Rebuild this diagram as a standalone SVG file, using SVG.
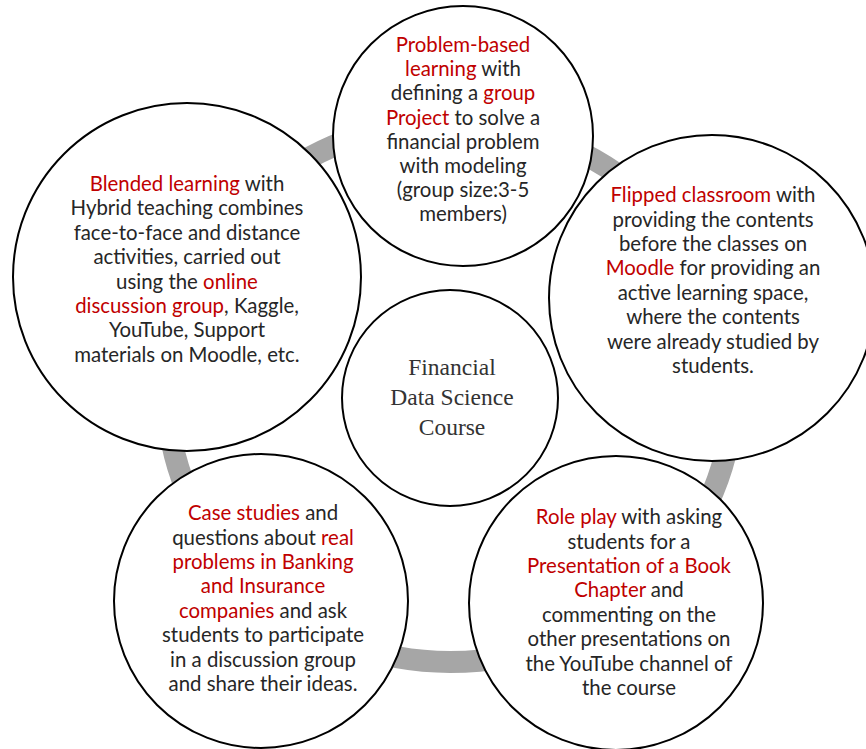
<svg xmlns="http://www.w3.org/2000/svg" width="866" height="749" viewBox="0 0 866 749">
  <style>
    .bubble { fill: #ffffff; stroke: #000000; stroke-width: 2; }
    .txt { font-family: Lato, "Open Sans", "Liberation Sans", sans-serif; font-size: 20.4px; fill: #262626; text-anchor: middle; }
    .hl { fill: #c00000; }
    .core { font-family: "Liberation Serif", "DejaVu Serif", serif; font-size: 23.5px; fill: #333333; text-anchor: middle; }
  </style>
  <rect width="866" height="749" fill="#ffffff"/>

  <!-- ring linking the five teaching methods -->
  <g id="connectors">
    <ellipse cx="450" cy="392" rx="283" ry="270" fill="none" stroke="#a6a6a6" stroke-width="22"/>
  </g>

  <g id="node-problem-based">
    <circle class="bubble" cx="463" cy="136" r="130"/>
    <text class="txt" x="463" y="52"><tspan class="hl">Problem-based</tspan></text>
    <text class="txt" x="463" y="76"><tspan class="hl">learning</tspan> with</text>
    <text class="txt" x="463" y="100">defining a <tspan class="hl">group</tspan></text>
    <text class="txt" x="463" y="125"><tspan class="hl">Project</tspan> to solve a</text>
    <text class="txt" x="463" y="149">financial problem</text>
    <text class="txt" x="463" y="173">with modeling</text>
    <text class="txt" x="463" y="197">(group size:3-5</text>
    <text class="txt" x="463" y="221">members)</text>
  </g>

  <g id="node-blended">
    <circle class="bubble" cx="187" cy="277" r="174"/>
    <text class="txt" x="187" y="191"><tspan class="hl">Blended learning</tspan> with</text>
    <text class="txt" x="187" y="215">Hybrid teaching combines</text>
    <text class="txt" x="187" y="240">face-to-face and distance</text>
    <text class="txt" x="187" y="264">activities, carried out</text>
    <text class="txt" x="187" y="289">using the <tspan class="hl">online</tspan></text>
    <text class="txt" x="187" y="313"><tspan class="hl">discussion group</tspan>, Kaggle,</text>
    <text class="txt" x="187" y="337">YouTube, Support</text>
    <text class="txt" x="187" y="362">materials on Moodle, etc.</text>
  </g>

  <g id="node-flipped">
    <circle class="bubble" cx="712" cy="298" r="163"/>
    <text class="txt" x="713" y="202"><tspan class="hl">Flipped classroom</tspan> with</text>
    <text class="txt" x="713" y="227">providing the contents</text>
    <text class="txt" x="713" y="251">before the classes on</text>
    <text class="txt" x="713" y="275"><tspan class="hl">Moodle</tspan> for providing an</text>
    <text class="txt" x="713" y="300">active learning space,</text>
    <text class="txt" x="713" y="324">where the contents</text>
    <text class="txt" x="713" y="349">were already studied by</text>
    <text class="txt" x="713" y="373">students.</text>
  </g>

  <g id="node-center">
    <circle class="bubble" cx="450" cy="398" r="108"/>
    <text class="core" x="452" y="375">Financial</text>
    <text class="core" x="452" y="405">Data Science</text>
    <text class="core" x="452" y="435">Course</text>
  </g>

  <g id="node-case-studies">
    <circle class="bubble" cx="261" cy="601" r="147"/>
    <text class="txt" x="263" y="520"><tspan class="hl">Case studies</tspan> and</text>
    <text class="txt" x="263" y="545">questions about <tspan class="hl">real</tspan></text>
    <text class="txt" x="263" y="569"><tspan class="hl">problems in Banking</tspan></text>
    <text class="txt" x="263" y="593"><tspan class="hl">and Insurance</tspan></text>
    <text class="txt" x="263" y="618"><tspan class="hl">companies</tspan> and ask</text>
    <text class="txt" x="263" y="642">students to participate</text>
    <text class="txt" x="263" y="667">in a discussion group</text>
    <text class="txt" x="263" y="691">and share their ideas.</text>
  </g>

  <g id="node-role-play">
    <circle class="bubble" cx="616" cy="603" r="147"/>
    <text class="txt" x="629" y="524"><tspan class="hl">Role play</tspan> with asking</text>
    <text class="txt" x="629" y="549">students for a</text>
    <text class="txt" x="629" y="573"><tspan class="hl">Presentation of a Book</tspan></text>
    <text class="txt" x="629" y="597"><tspan class="hl">Chapter</tspan> and</text>
    <text class="txt" x="629" y="622">commenting on the</text>
    <text class="txt" x="629" y="646">other presentations on</text>
    <text class="txt" x="629" y="671">the YouTube channel of</text>
    <text class="txt" x="629" y="695">the course</text>
  </g>
</svg>
